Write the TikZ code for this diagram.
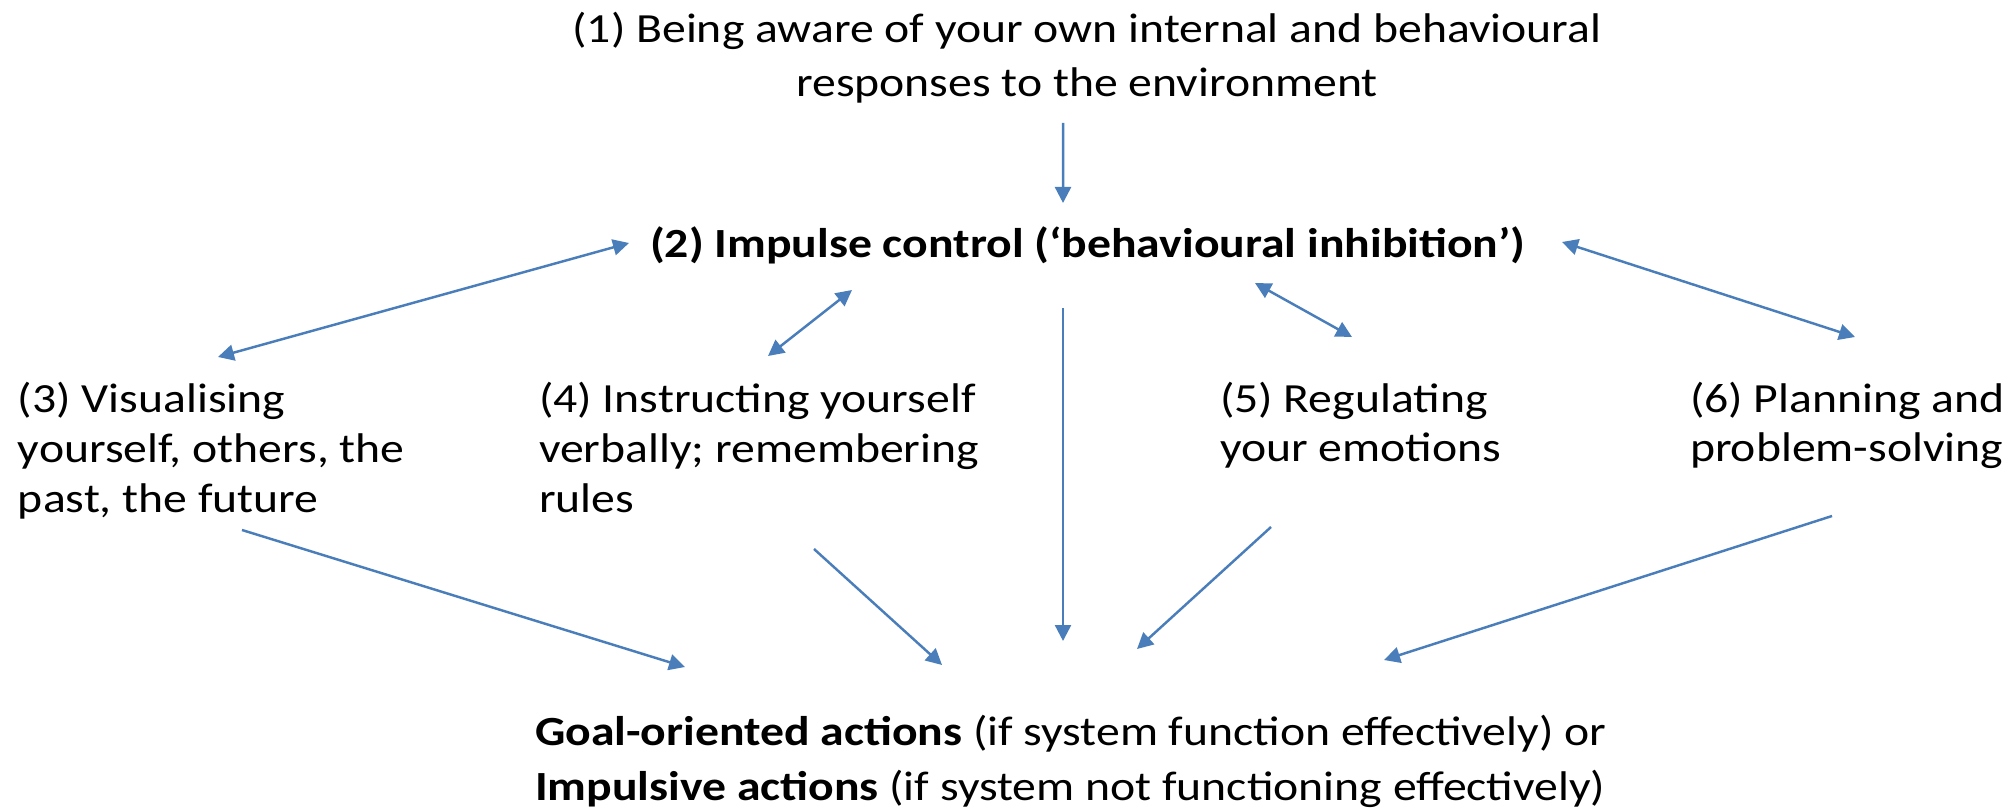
\documentclass[tikz,border=0pt]{standalone}
\usepackage{fontspec}
\setmainfont{Carlito}[FakeStretch=1.15]
\usetikzlibrary{arrows.meta}
\definecolor{linkblue}{RGB}{74,126,187}

\begin{document}
\begin{tikzpicture}[
  every node/.style={inner sep=0pt, outer sep=0pt, font=\fontsize{11.8}{14.2}\selectfont},
  wide/.style={font=\fontsize{11.8}{15.6}\selectfont},
  stage/.style={anchor=base west, align=left},
  tip/.tip={Triangle[length=1.6mm, width=1.6mm]},
  oneway/.style={draw=linkblue, line width=0.7pt, -tip},
  twoway/.style={draw=linkblue, line width=0.7pt, tip-tip}]
  \useasboundingbox (0,0) rectangle (20.13,-8.09);

  % awareness and impulse control (base = last line)
  \node[wide, anchor=base, align=center] (aware) at (10.87,-0.97)
    {(1) Being aware of your own internal and behavioural\\responses to the environment};
  \node[anchor=base west, font=\fontsize{11.8}{14.2}\selectfont\bfseries] (impulse) at (6.50,-2.58)
    {(2) Impulse control (‘behavioural inhibition’)};

  % the four functions
  \node[stage] (visual) at (0.18,-5.12) {(3) Visualising\\yourself, others, the\\past, the future};
  \node[stage] (verbal) at (5.39,-5.12) {(4) Instructing yourself\\verbally; remembering\\rules};
  \node[stage] (emotion) at (12.20,-4.62) {(5) Regulating\\your emotions};
  \node[stage] (planning) at (16.90,-4.62) {(6) Planning and\\problem-solving};

  % outcome
  \node[stage, wide] (action) at (5.35,-8.00)
    {\textbf{Goal-oriented actions} (if system function effectively) or\\
     \textbf{Impulsive actions} (if system not functioning effectively)};

  % links from impulse control
  \draw[oneway] ([shift={(-0.24,-0.26)}]aware.base) -- ([shift={(4.13,0.55)}]impulse.base west);
  \draw[twoway] ([shift={(-0.21,0.15)}]impulse.base west) -- ([shift={(2.00,1.55)}]visual.base west);
  \draw[twoway] ([shift={(2.02,-0.32)}]impulse.base west) -- ([shift={(2.29,1.56)}]verbal.base west);
  \draw[twoway] ([shift={(6.05,-0.25)}]impulse.base west) -- ([shift={(1.32,1.25)}]emotion.base west);
  \draw[twoway] ([shift={(9.12,0.16)}]impulse.base west) -- ([shift={(1.65,1.25)}]planning.base west);
  \draw[oneway] ([shift={(4.13,-0.50)}]impulse.base west) -- ([shift={(5.28,1.59)}]action.base west);

  % links to the actions
  \draw[oneway] ([shift={(2.24,-0.18)}]visual.base west) -- ([shift={(1.50,1.33)}]action.base west);
  \draw[oneway] ([shift={(2.75,-0.37)}]verbal.base west) -- ([shift={(4.07,1.35)}]action.base west);
  \draw[oneway] ([shift={(0.51,-0.65)}]emotion.base west) -- ([shift={(6.02,1.51)}]action.base west);
  \draw[oneway] ([shift={(1.42,-0.54)}]planning.base west) -- ([shift={(8.49,1.40)}]action.base west);
\end{tikzpicture}
\end{document}
